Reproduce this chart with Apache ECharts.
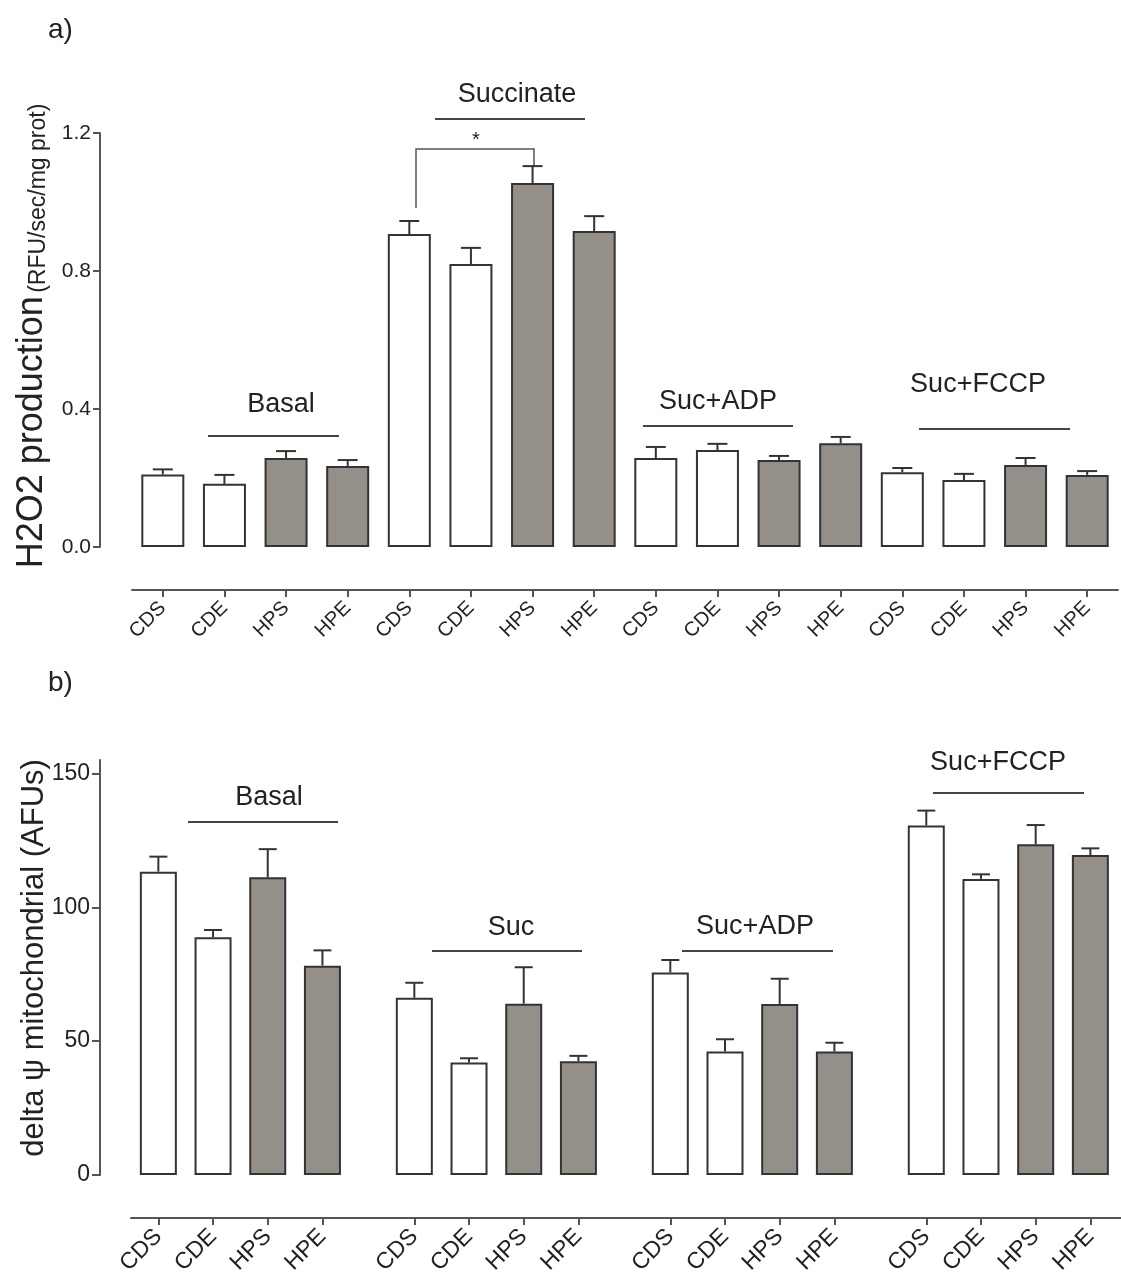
<!DOCTYPE html>
<html>
<head>
<meta charset="utf-8">
<script src="https://cdn.jsdelivr.net/npm/echarts@6/dist/echarts.min.js"></script>
<style>
html,body{margin:0;padding:0;background:#fff;}
#c{width:1121px;height:1284px;}
</style>
</head>
<body>
<div id="c"></div>
<script>
// ---------- data ----------
const CATS = ['CDS', 'CDE', 'HPS', 'HPE'];
const H2O2_GROUPS = ['Basal', 'Succinate', 'Suc+ADP', 'Suc+FCCP'];
const PSI_GROUPS = ['Basal', 'Suc', 'Suc+ADP', 'Suc+FCCP'];

// a) H2O2 production (RFU/sec/mg prot)
const h2o2Basal      = [0.210, 0.183, 0.258, 0.235];
const h2o2BasalErr   = [0.015, 0.026, 0.020, 0.017];
const h2o2Succ       = [0.907, 0.820, 1.055, 0.916];
const h2o2SuccErr    = [0.038, 0.047, 0.049, 0.043];
const h2o2SucADP     = [0.258, 0.281, 0.252, 0.301];
const h2o2SucADPErr  = [0.032, 0.018, 0.012, 0.018];
const h2o2SucFCCP    = [0.217, 0.194, 0.238, 0.209];
const h2o2SucFCCPErr = [0.012, 0.018, 0.020, 0.011];

// b) delta psi mitochondrial (AFUs)
const psiBasal      = [113.3, 88.8, 111.2, 78.2];
const psiBasalErr   = [5.6, 2.7, 10.5, 5.7];
const psiSuc        = [66.2, 42.0, 64.0, 42.5];
const psiSucErr     = [5.6, 1.6, 13.6, 2.0];
const psiSucADP     = [75.6, 46.1, 63.9, 46.1];
const psiSucADPErr  = [4.7, 4.6, 9.4, 3.3];
const psiSucFCCP    = [130.5, 110.6, 123.5, 119.5];
const psiSucFCCPErr = [5.6, 1.7, 7.2, 2.5];

const H2O2_TICKS = [0, 0.4, 0.8, 1.2];
const PSI_TICKS = [0, 50, 100, 150];

// ---------- build ----------
const FONT = "'Liberation Sans', Arial, Helvetica, sans-serif";
const INK = '#222';
const AXIS = '#555';
const WHITE = '#ffffff';
const GRAY = '#958f8a';
const fillFor = c => (c.charAt(0) === 'C' ? WHITE : GRAY);

const h2o2Vals = [h2o2Basal, h2o2Succ, h2o2SucADP, h2o2SucFCCP];
const h2o2Errs = [h2o2BasalErr, h2o2SuccErr, h2o2SucADPErr, h2o2SucFCCPErr];
const psiVals = [psiBasal, psiSuc, psiSucADP, psiSucFCCP];
const psiErrs = [psiBasalErr, psiSucErr, psiSucADPErr, psiSucFCCPErr];

const topLabels = [], topBars = [], topErr = [];
h2o2Vals.forEach((arr, g) => arr.forEach((v, i) => {
  const idx = g * 4 + i;
  topLabels.push(CATS[i]);
  topBars.push({ value: v, itemStyle: { color: fillFor(CATS[i]) } });
  topErr.push([idx, v, h2o2Errs[g][i]]);
}));

// bottom panel: groups separated by an extra gap
const GROUP_PERIOD = 4.68;
const botPos = [], botLabelMap = {}, botBars = [], botErr = [];
psiVals.forEach((arr, g) => arr.forEach((v, i) => {
  const p = +(g * GROUP_PERIOD + i).toFixed(2);
  botPos.push(p);
  botLabelMap[p.toFixed(2)] = CATS[i];
  botBars.push({ value: [p, v], itemStyle: { color: fillFor(CATS[i]) } });
  botErr.push([p, v, psiErrs[g][i]]);
}));

function errRender(capHalf) {
  return function (params, api) {
    const x = api.value(0), v = api.value(1), e = api.value(2);
    const p0 = api.coord([x, v]);
    const p1 = api.coord([x, v + e]);
    const st = { stroke: '#333', lineWidth: 2 };
    return {
      type: 'group',
      children: [
        { type: 'line', shape: { x1: p0[0], y1: p0[1], x2: p1[0], y2: p1[1] }, style: st },
        { type: 'line', shape: { x1: p1[0] - capHalf, y1: p1[1], x2: p1[0] + capHalf, y2: p1[1] }, style: st }
      ]
    };
  };
}

const chart = echarts.init(document.getElementById('c'), null, { renderer: 'canvas' });

const axisLineStyle = { show: true, onZero: false, lineStyle: { color: AXIS, width: 2 } };

// group annotations (pixel layout)
const topAnno = [
  { t: H2O2_GROUPS[0], tx: 281, ty: 405, ly: 436, x1: 208, x2: 339 },
  { t: H2O2_GROUPS[1], tx: 517, ty: 95,  ly: 119, x1: 435, x2: 585 },
  { t: H2O2_GROUPS[2], tx: 718, ty: 402, ly: 426, x1: 643, x2: 793 },
  { t: H2O2_GROUPS[3], tx: 978, ty: 385, ly: 429, x1: 919, x2: 1070 }
];
const botAnno = [
  { t: PSI_GROUPS[0], tx: 269, ty: 798, ly: 822, x1: 188, x2: 338 },
  { t: PSI_GROUPS[1], tx: 511, ty: 928, ly: 951, x1: 432, x2: 582 },
  { t: PSI_GROUPS[2], tx: 755, ty: 927, ly: 951, x1: 682, x2: 833 },
  { t: PSI_GROUPS[3], tx: 998, ty: 763, ly: 793, x1: 933, x2: 1084 }
];
const graphics = [];
topAnno.concat(botAnno).forEach(a => {
  graphics.push({ type: 'text', x: a.tx, y: a.ty, style: { text: a.t, font: '27px ' + FONT, fill: INK, align: 'center', verticalAlign: 'middle' } });
  graphics.push({ type: 'line', shape: { x1: a.x1, y1: a.ly, x2: a.x2, y2: a.ly }, style: { stroke: '#444', lineWidth: 2 } });
});
// significance bracket
graphics.push({ type: 'polyline', shape: { points: [[416, 208], [416, 149], [534, 149], [534, 166]] }, style: { stroke: '#555', lineWidth: 1.5, fill: null } });
graphics.push({ type: 'text', x: 476, y: 140, style: { text: '*', font: '20px ' + FONT, fill: INK, align: 'center', verticalAlign: 'middle' } });
// panel letters
graphics.push({ type: 'text', x: 48, y: 30, style: { text: 'a)', font: '28px ' + FONT, fill: INK, align: 'left', verticalAlign: 'middle' } });
graphics.push({ type: 'text', x: 48, y: 683, style: { text: 'b)', font: '28px ' + FONT, fill: INK, align: 'left', verticalAlign: 'middle' } });
// y axis names
graphics.push({
  type: 'text', x: 50, y: 336, rotation: Math.PI / 2,
  style: {
    text: '{a|H2O2 production} {b|(RFU/sec/mg prot)}',
    align: 'center', verticalAlign: 'bottom', fill: INK,
    rich: {
      a: { fontSize: 36, fontFamily: FONT, lineHeight: 40, verticalAlign: 'bottom', fill: INK },
      b: { fontSize: 23, fontFamily: FONT, lineHeight: 27, verticalAlign: 'bottom', fill: INK }
    }
  }
});
graphics.push({
  type: 'text', x: 50, y: 958, rotation: Math.PI / 2,
  style: { text: 'delta ψ mitochondrial (AFUs)', font: '31px ' + FONT, fill: INK, align: 'center', verticalAlign: 'bottom' }
});

chart.setOption({
  animation: false,
  backgroundColor: '#fff',
  textStyle: { fontFamily: FONT },
  grid: [
    { left: 132, top: 133, width: 986, height: 414 },
    { left: 131, top: 760, width: 990, height: 415 }
  ],
  xAxis: [
    {
      type: 'category', gridIndex: 0, data: topLabels, offset: 43,
      axisLine: axisLineStyle,
      axisTick: { show: true, alignWithLabel: true, interval: 0, length: 7, lineStyle: { color: AXIS, width: 2 } },
      axisLabel: { interval: 0, rotate: 45, fontSize: 20, color: INK, margin: 15, fontFamily: FONT },
      splitLine: { show: false }
    },
    {
      type: 'value', gridIndex: 1, min: -0.5, max: 17.6, offset: 43,
      axisLine: axisLineStyle,
      axisTick: { show: true, customValues: botPos, length: 7, lineStyle: { color: AXIS, width: 2 } },
      axisLabel: {
        customValues: botPos, rotate: 45, fontSize: 23, color: INK, margin: 15, fontFamily: FONT,
        formatter: v => botLabelMap[(+v).toFixed(2)] || ''
      },
      splitLine: { show: false }
    }
  ],
  yAxis: [
    {
      type: 'value', gridIndex: 0, min: 0, max: 1.2, interval: 0.4, offset: 32,
      axisLine: axisLineStyle,
      axisTick: { show: true, length: 7, lineStyle: { color: AXIS, width: 2 } },
      axisLabel: { fontSize: 21, color: INK, margin: 9, fontFamily: FONT, formatter: v => (+v).toFixed(1) },
      splitLine: { show: false }
    },
    {
      type: 'value', gridIndex: 1, min: 0, max: 155, offset: 31,
      axisLine: axisLineStyle,
      axisTick: { show: true, customValues: PSI_TICKS, length: 8, lineStyle: { color: AXIS, width: 2 } },
      axisLabel: { customValues: PSI_TICKS, fontSize: 23, color: INK, margin: 10, fontFamily: FONT },
      splitLine: { show: false }
    }
  ],
  series: [
    {
      type: 'bar', xAxisIndex: 0, yAxisIndex: 0, data: topBars, barWidth: 43,
      itemStyle: { borderColor: '#333', borderWidth: 2 }
    },
    {
      type: 'custom', xAxisIndex: 0, yAxisIndex: 0, data: topErr, z: 5,
      encode: { x: 0, y: 1 }, renderItem: errRender(10)
    },
    {
      type: 'bar', xAxisIndex: 1, yAxisIndex: 1, data: botBars, barWidth: 37,
      itemStyle: { borderColor: '#333', borderWidth: 2 }
    },
    {
      type: 'custom', xAxisIndex: 1, yAxisIndex: 1, data: botErr, z: 5,
      encode: { x: 0, y: 1 }, renderItem: errRender(9)
    }
  ],
  graphic: graphics
});
</script>
</body>
</html>
